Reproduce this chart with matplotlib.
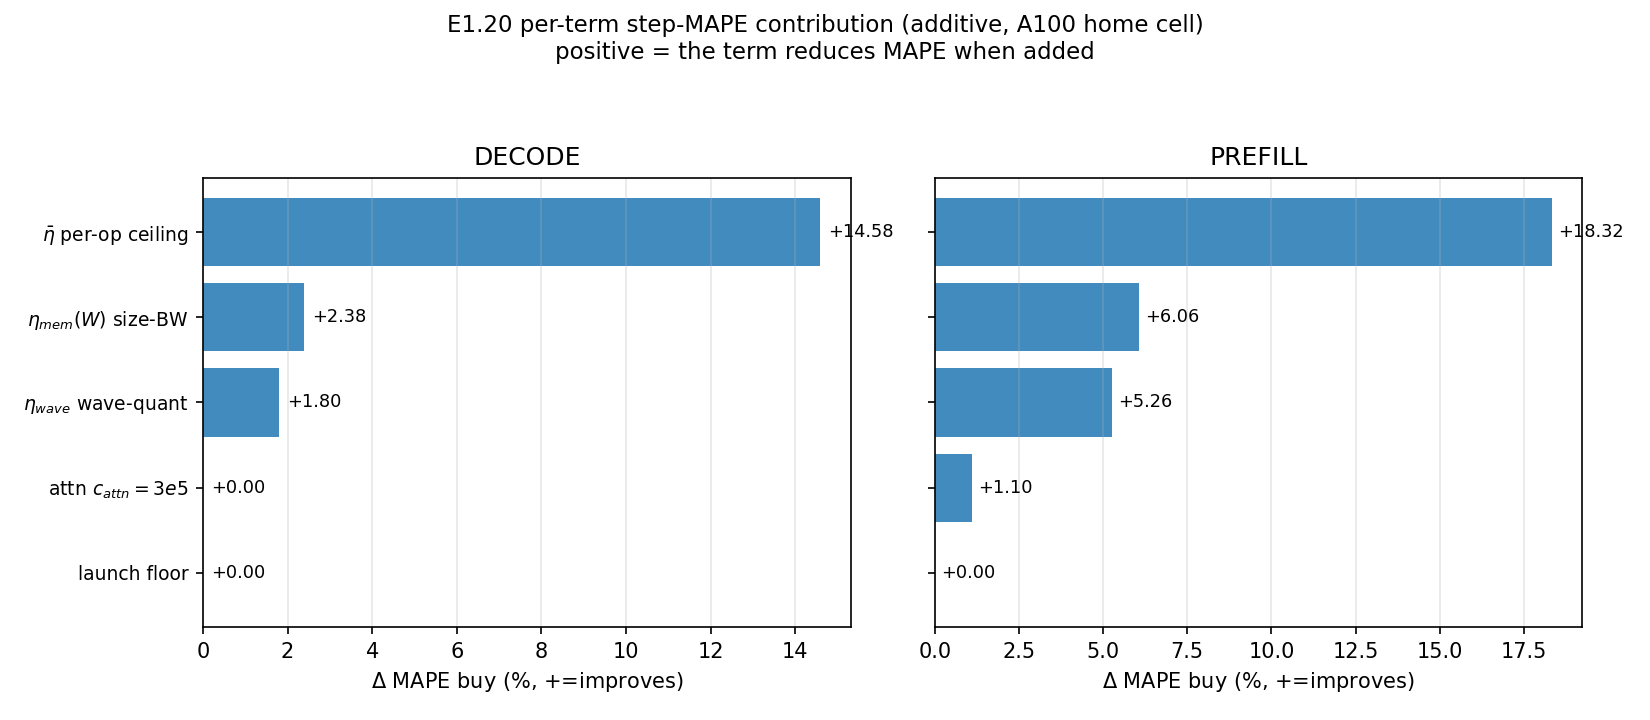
import matplotlib
matplotlib.use("Agg")
import matplotlib.pyplot as plt

terms = [r"$\bar{\eta}$ per-op ceiling",
         r"$\eta_{mem}(W)$ size-BW",
         r"$\eta_{wave}$ wave-quant",
         r"attn $c_{attn}=3e5$",
         "launch floor"]
decode = [14.58, 2.38, 1.80, 0.00, 0.00]
prefill = [18.32, 6.06, 5.26, 1.10, 0.00]

fig, axes = plt.subplots(1, 2, figsize=(11, 4.8), dpi=150, sharey=True)

for ax, vals, name in zip(axes, [decode, prefill], ["DECODE", "PREFILL"]):
    y = range(len(terms))
    ax.barh(y, vals, color="tab:blue", alpha=0.85)
    for i, v in enumerate(vals):
        ax.text(v + 0.2, i, "{:+.2f}".format(v), va="center", fontsize=8.5)
    ax.set_yticks(list(y))
    ax.set_yticklabels(terms, fontsize=9)
    ax.set_title(name)
    ax.set_xlabel(r"$\Delta$ MAPE buy (%, +=improves)")
    ax.grid(axis="x", alpha=0.3)

axes[0].invert_yaxis()

fig.suptitle("E1.20 per-term step-MAPE contribution (additive, A100 home cell)\n"
             "positive = the term reduces MAPE when added", fontsize=11)
fig.subplots_adjust(left=0.123, right=0.959, top=0.753, bottom=0.129, wspace=0.13)
fig.savefig("out.png")
